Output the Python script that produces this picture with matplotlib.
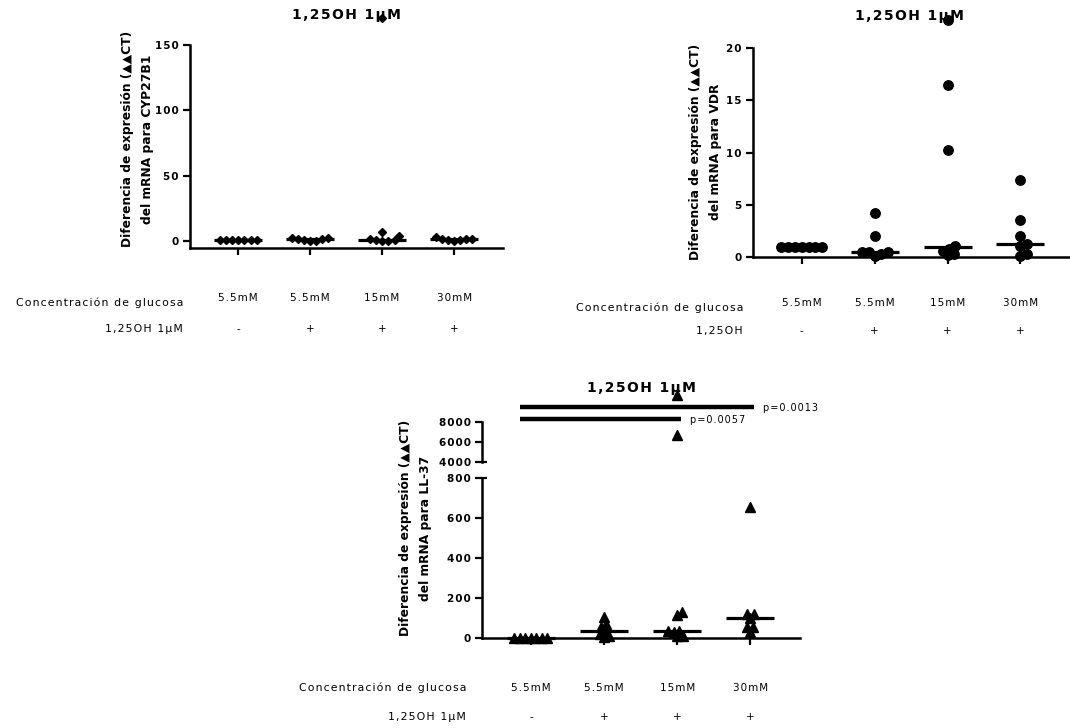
import numpy as np
import matplotlib
matplotlib.use("Agg")
import matplotlib.pyplot as plt
from matplotlib.transforms import blended_transform_factory

plt.rcParams['font.family'] = ['DejaVu Sans']

# groups shown on every panel
glucose = ['5.5mM', '5.5mM', '15mM', '30mM']
treated = ['-', '+', '+', '+']
title = '1,25OH 1µM'

# fold change (ddCT) per group
cyp27b1 = [
    [1.0, 1.0, 1.0, 1.0, 1.0, 1.0, 1.0],
    [2.2, 1.6, 0.4, 0.2, 0.3, 1.2, 2.5],
    [7.0, 3.8, 0.3, 0.2, 0.4, 0.5, 1.3, 171.0],
    [3.0, 1.5, 0.4, 0.3, 0.6, 1.6, 1.8],
]
vdr = [
    [1.0, 1.0, 1.0, 1.0, 1.0, 1.0, 1.0],
    [4.25, 2.0, 0.5, 0.45, 0.1, 0.25, 0.45],
    [22.7, 16.5, 10.2, 1.1, 0.6, 0.15, 0.3, 0.8],
    [7.4, 3.5, 2.0, 1.1, 1.2, 0.1, 0.3],
]
ll37 = [
    [1.0, 1.0, 1.0, 1.0, 1.0, 1.0, 1.0],
    [105, 55, 68, 22, 3, 35, 12],
    [130, 115, 36, 34, 32, 10, 12, 6700, 10700],
    [120, 118, 98, 57, 55, 30, 655],
]
# significance bars for LL-37: (from group, to group, label, height)
ll37_sig = [(0, 2, 'p=0.0057', 8300), (0, 3, 'p=0.0013', 9500)]

W, H = 1070, 728
fig = plt.figure(figsize=(W / 100, H / 100), dpi=100)


def spaced(s):
    # a little tracking between letters
    return '\u200a'.join(s)


def px_axes(x0, y_top, x1, y_bot):
    return fig.add_axes([x0 / W, 1 - y_bot / H, (x1 - x0) / W, (y_bot - y_top) / H])


def style(ax, yticks, ylim):
    ax.set_xlim(-0.67, 3.68)
    ax.set_ylim(*ylim)
    for s in ['top', 'right']:
        ax.spines[s].set_visible(False)
    for s in ['left', 'bottom']:
        ax.spines[s].set_linewidth(1.8)
    ax.set_yticks(yticks)
    ax.set_yticklabels([spaced(str(t)) for t in yticks], fontweight='bold', fontsize=7.5)
    ax.set_xticks(range(len(glucose)))
    ax.set_xticklabels([])
    ax.tick_params(length=5, width=1.6, pad=3)


def swarm(ax, x0, vals, d):
    # simple beeswarm in pixel space, returns x positions in data units
    vals = np.asarray(vals, dtype=float)
    pts = ax.transData.transform(np.column_stack([np.full(len(vals), x0), vals]))
    offs = np.zeros(len(vals))
    placed = []
    for i in np.argsort(vals, kind='stable'):
        y = pts[i, 1]
        cands = [0.0]
        for px, py in placed:
            dy = abs(py - y)
            if dy < d:
                dx = np.sqrt(d * d - dy * dy)
                cands += [px - dx, px + dx]
        cands.sort(key=lambda c: (abs(c), -c))
        for c in cands:
            if all((c - px) ** 2 + (y - py) ** 2 >= d * d - 1e-6 for px, py in placed):
                offs[i] = c
                break
        placed.append((offs[i], y))
    back = ax.transData.inverted().transform(np.column_stack([pts[:, 0] + offs, pts[:, 1]]))
    return back[:, 0]


def scatter_groups(ax, data, marker, ms, d, keep=None):
    for i, vals in enumerate(data):
        vals = np.asarray(vals, dtype=float)
        if keep is not None:
            vals = vals[keep(vals)]
        if len(vals) == 0:
            continue
        xs = swarm(ax, i, vals, d)
        ax.plot(xs, vals, linestyle='none', marker=marker, ms=ms, color='black',
                clip_on=False, zorder=3)


def medians(ax, data):
    for i, vals in enumerate(data):
        m = np.median(vals)
        ax.plot([i - 0.33, i + 0.33], [m, m], color='black', lw=2.3,
                solid_capstyle='butt', clip_on=False, zorder=4)


def labels_below(ax, y_row1, y_lab1, y_row2, x_right, row2_label):
    tr = blended_transform_factory(ax.transData, fig.transFigure)
    for i, (g, t) in enumerate(zip(glucose, treated)):
        ax.text(i, 1 - y_row1 / H, spaced(g), transform=tr, ha='center', va='center', fontsize=7.5)
        ax.text(i, 1 - y_row2 / H, t, transform=tr, ha='center', va='center', fontsize=7.5)
    fig.text(x_right / W, 1 - y_lab1 / H, spaced('Concentración de glucosa'),
             ha='right', va='center', fontsize=7.8)
    fig.text(x_right / W, 1 - y_row2 / H, spaced(row2_label), ha='right', va='center', fontsize=7.8)


def ylabel(x, y, gene):
    fig.text(x / W, 1 - y / H, 'Diferencia de expresión (▲▲CT)\ndel mRNA para ' + gene,
             rotation=90, ha='center', va='center', fontsize=8.8, fontweight='bold',
             linespacing=1.7)


def add_title(x, y):
    fig.text(x / W, 1 - y / H, spaced(title), ha='center', va='center', fontsize=10,
             fontweight='bold')


# CYP27B1
ax1 = px_axes(190, 45, 503, 248)
style(ax1, [0, 50, 100, 150], (-5.4, 150))
scatter_groups(ax1, cyp27b1, 'D', 4.2, 6.2)
medians(ax1, cyp27b1)
add_title(346, 15)
ylabel(137, 139, 'CYP27B1')
labels_below(ax1, 298, 303, 329, 183, '1,25OH 1µM')

# VDR
ax2 = px_axes(753, 48, 1070, 257)
style(ax2, [0, 5, 10, 15, 20], (0, 20))
scatter_groups(ax2, vdr, 'o', 6.8, 6.8)
medians(ax2, vdr)
add_title(909, 16)
ylabel(705, 152, 'VDR')
labels_below(ax2, 303, 308, 331, 743, '1,25OH')

# LL-37 with broken y axis
ax3 = px_axes(482, 478, 800, 638)
style(ax3, [0, 200, 400, 600, 800], (0, 800))
ax4 = px_axes(482, 422, 800, 462)
style(ax4, [4000, 6000, 8000], (4000, 8000))
ax4.spines['bottom'].set_visible(False)
ax4.tick_params(axis='x', length=0)
ax4.patch.set_visible(False)
# break marks: ticks crossing the spine at the cut
for a, yv in [(ax3, 800), (ax4, 4000)]:
    a.plot([0, 5 / 318], [yv, yv], color='black', lw=1.6, transform=a.get_yaxis_transform(),
           clip_on=False, solid_capstyle='butt')

scatter_groups(ax3, ll37, '^', 7.5, 5.5, keep=lambda v: v < 1000)
scatter_groups(ax4, ll37, '^', 7.5, 5.5, keep=lambda v: v >= 1000)
medians(ax3, ll37)
for g0, g1, lab, yv in ll37_sig:
    ax4.plot([g0 - 0.15, g1 + 0.05], [yv, yv], color='black', lw=3.2,
             solid_capstyle='butt', clip_on=False)
    ax4.text(g1 + 0.17, yv - 150, spaced(lab), ha='left', va='center', fontsize=7)
add_title(641, 388)
ylabel(416, 528, 'LL-37')
labels_below(ax3, 688, 688, 717, 466, '1,25OH 1µM')

fig.savefig('out.png', dpi=100)
